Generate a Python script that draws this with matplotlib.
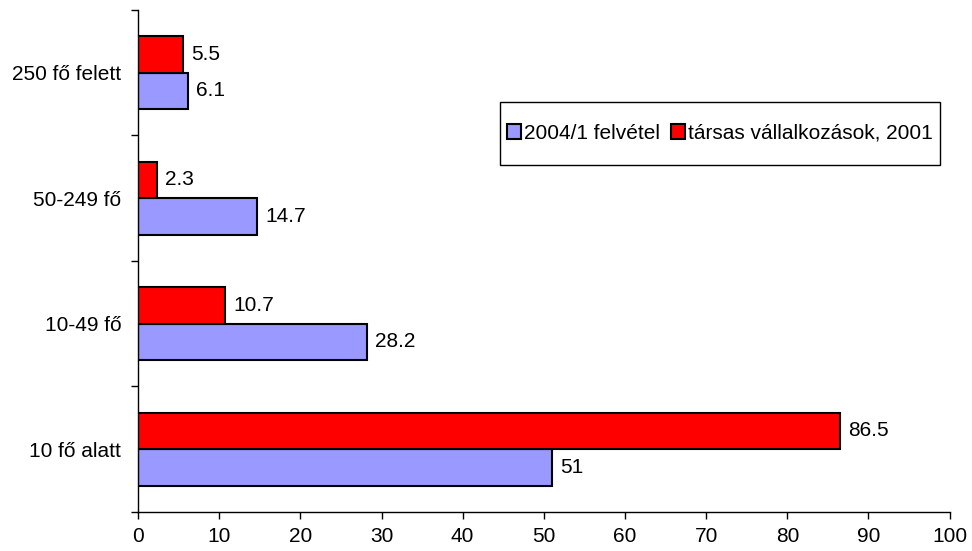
import matplotlib

matplotlib.use("Agg")
import matplotlib.pyplot as plt
import numpy as np
from matplotlib.patches import Rectangle

plt.rcParams["font.family"] = ["Liberation Sans", "DejaVu Sans"]

categories = ["10 fő alatt", "10-49 fő", "50-249 fő", "250 fő felett"]
survey_2004 = [51, 28.2, 14.7, 6.1]
companies_2001 = [86.5, 10.7, 2.3, 5.5]
series_names = ["2004/1 felvétel", "társas vállalkozások, 2001"]
x_ticks = list(range(0, 101, 10))

BLUE = "#9999FF"
RED = "#FF0000"
BAR_H = 0.29
FS = 15

fig = plt.figure(figsize=(9.72, 5.51), dpi=100)
ax = fig.add_axes([0.142, 0.071, 0.835, 0.911])

y = np.arange(len(categories))
b1 = ax.barh(y - BAR_H / 2, survey_2004, height=BAR_H, color=BLUE,
             edgecolor="black", linewidth=1.5, label=series_names[0])
b2 = ax.barh(y + BAR_H / 2, companies_2001, height=BAR_H, color=RED,
             edgecolor="black", linewidth=1.5, label=series_names[1])

for bars, vals in ((b1, survey_2004), (b2, companies_2001)):
    for bar, v in zip(bars, vals):
        ax.annotate(f"{v:g}", (v, bar.get_y() + bar.get_height() / 2),
                    xytext=(6, 0), textcoords="offset points",
                    va="center", ha="left", fontsize=FS)

ax.set_xlim(0, 100)
ax.set_ylim(-0.5, len(categories) - 0.5)
ax.set_xticks(x_ticks)
ax.tick_params(axis="x", labelsize=FS, direction="out", length=5, width=1, pad=6)

# category names sit between the boundary ticks
ax.set_yticks(np.arange(len(categories) + 1) - 0.5)
ax.set_yticklabels([])
ax.tick_params(axis="y", direction="out", length=5, width=1)
ax.set_yticks(y, minor=True)
ax.set_yticklabels(categories, minor=True)
ax.tick_params(axis="y", which="minor", length=0, labelsize=FS, pad=12)

for side in ("top", "right"):
    ax.spines[side].set_visible(False)
for side in ("left", "bottom"):
    ax.spines[side].set_linewidth(1)

# legend box
box = (0.446, 0.691, 0.542, 0.126)
ax.add_patch(Rectangle(box[:2], box[2], box[3], transform=ax.transAxes,
                       facecolor="white", edgecolor="black", linewidth=1,
                       zorder=4))
ax.legend(loc="center", bbox_to_anchor=(box[0] + box[2] / 2, box[1] + box[3] / 2),
          ncol=2, fontsize=FS, frameon=False, handlelength=0.7,
          handleheight=0.7, handletextpad=0.15, columnspacing=0.5,
          borderaxespad=0, borderpad=0).set_zorder(5)

fig.savefig("out.png", dpi=100)
plt.close(fig)
